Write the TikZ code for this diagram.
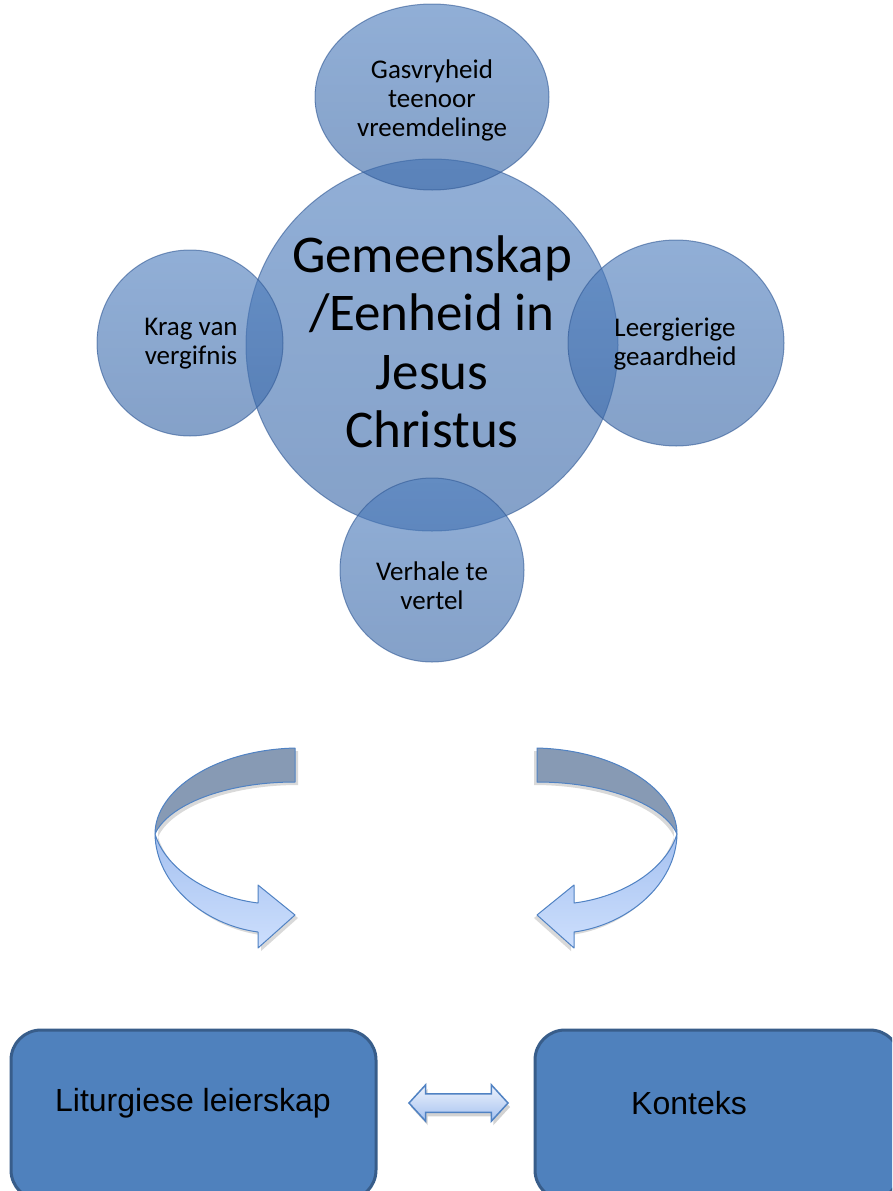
\documentclass[tikz,border=0pt]{standalone}
\usepackage{fontspec}
\setmainfont{Carlito}
\newfontfamily\arialfont{Liberation Sans}
\usetikzlibrary{shapes.geometric,shapes.arrows,shadows}
\definecolor{venntop}{RGB}{78,126,190}
\definecolor{vennbot}{RGB}{58,104,168}
\definecolor{vennline}{RGB}{50,90,150}
\definecolor{boxfill}{RGB}{79,129,189}
\definecolor{boxline}{RGB}{56,93,138}
\definecolor{arrowback}{RGB}{135,154,180}
\definecolor{arrowfrontA}{RGB}{165,193,240}
\definecolor{arrowfrontB}{RGB}{205,223,253}
\definecolor{arrowline}{RGB}{80,130,195}
\tikzset{
  venn/.style={top color=venntop, bottom color=vennbot, fill opacity=0.62,
    draw=vennline, draw opacity=0.6, line width=1pt, inner sep=0pt},
  vtext/.style={align=center, text=black, font=\fontsize{27}{29}\selectfont},
  bigtext/.style={align=center, text=black, font=\fontsize{53}{58.5}\selectfont},
  box/.style={fill=boxfill, draw=boxline, line width=3pt, rounded corners=30pt,
    minimum width=365pt, minimum height=170pt, inner sep=0pt},
  boxtext/.style={text=black, font=\arialfont\fontsize{32}{36}\selectfont},
  backband/.style={fill=arrowback, draw=arrowline, line width=1pt, line join=round},
  frontband/.style={top color=arrowfrontA, bottom color=arrowfrontB, draw=arrowline,
    line width=1pt, line join=round},
  shadowband/.style={fill=black, fill opacity=0.15},
  dblarrow/.style={double arrow, double arrow head extend=9pt, double arrow tip angle=95,
    minimum height=99pt, inner sep=8.5pt, top color=white!80!arrowfrontA,
    bottom color=arrowfrontA, draw=arrowline, line width=1.5pt,
    drop shadow={shadow xshift=2pt, shadow yshift=-4pt, opacity=0.35}}
}
\begin{document}
\begin{tikzpicture}[x=1pt,y=-1pt]
\clip (0,0) rectangle (892,1191);
\fill[white] (0,0) rectangle (892,1191);
% Venn circles
\node[venn, circle, minimum size=372pt] (big) at (432,345) {};
\node[venn, ellipse, minimum width=234pt, minimum height=186pt] (topc) at (432,97) {};
\node[venn, circle, minimum size=186pt] (leftc) at (190,343) {};
\node[venn, ellipse, minimum width=216pt, minimum height=206pt] (rightc) at (676,343) {};
\node[venn, circle, minimum size=184pt] (botc) at (432,570) {};
% texts
\node[bigtext] (bigt) at (432,342) {Gemeenskap\\/Eenheid in\\Jesus\\Christus};
\node[vtext] (topt) at (432,100) {Gasvryheid\\teenoor\\vreemdelinge};
\node[vtext] (leftt) at (191,344) {Krag van\\vergifnis};
\node[vtext] (rightt) at (675,344) {Leergierige\\geaardheid};
\node[vtext] (bott) at (432,586) {Verhale te\\vertel};
% curved arrows
\foreach \sx/\mx in {0/1,832/-1}{
\begin{scope}[xshift=\sx pt, xscale=\mx]
  \begin{scope}[shift={(3,3)}]
  \fill[shadowband] (295,748) .. controls (215,750) and (155,790) .. (155,834)
     .. controls (168,805) and (225,782) .. (295,782) -- cycle;
  \fill[shadowband] (155,834) .. controls (156,885) and (205,925) .. (258,932)
     -- (258,948) -- (295,915) -- (258,885) -- (258,903)
     .. controls (210,897) and (166,870) .. (155,834) -- cycle;
  \end{scope}
  \path[backband] (295,748) .. controls (215,750) and (155,790) .. (155,834)
     .. controls (168,805) and (225,782) .. (295,782) -- cycle;
  \path[frontband] (155,834) .. controls (156,885) and (205,925) .. (258,932)
     -- (258,948) -- (295,915) -- (258,885) -- (258,903)
     .. controls (210,897) and (166,870) .. (155,834) -- cycle;
\end{scope}}
% boxes
\node[box] (lbox) at (193.5,1115) {};
\node[box] (rbox) at (717.5,1115) {};
\node[boxtext] (ltext) at (193,1103) {Liturgiese leierskap};
\node[boxtext] (rtext) at (689,1103) {Konteks};
\node[dblarrow] (link) at (458.5,1103) {};
\end{tikzpicture}
\end{document}
